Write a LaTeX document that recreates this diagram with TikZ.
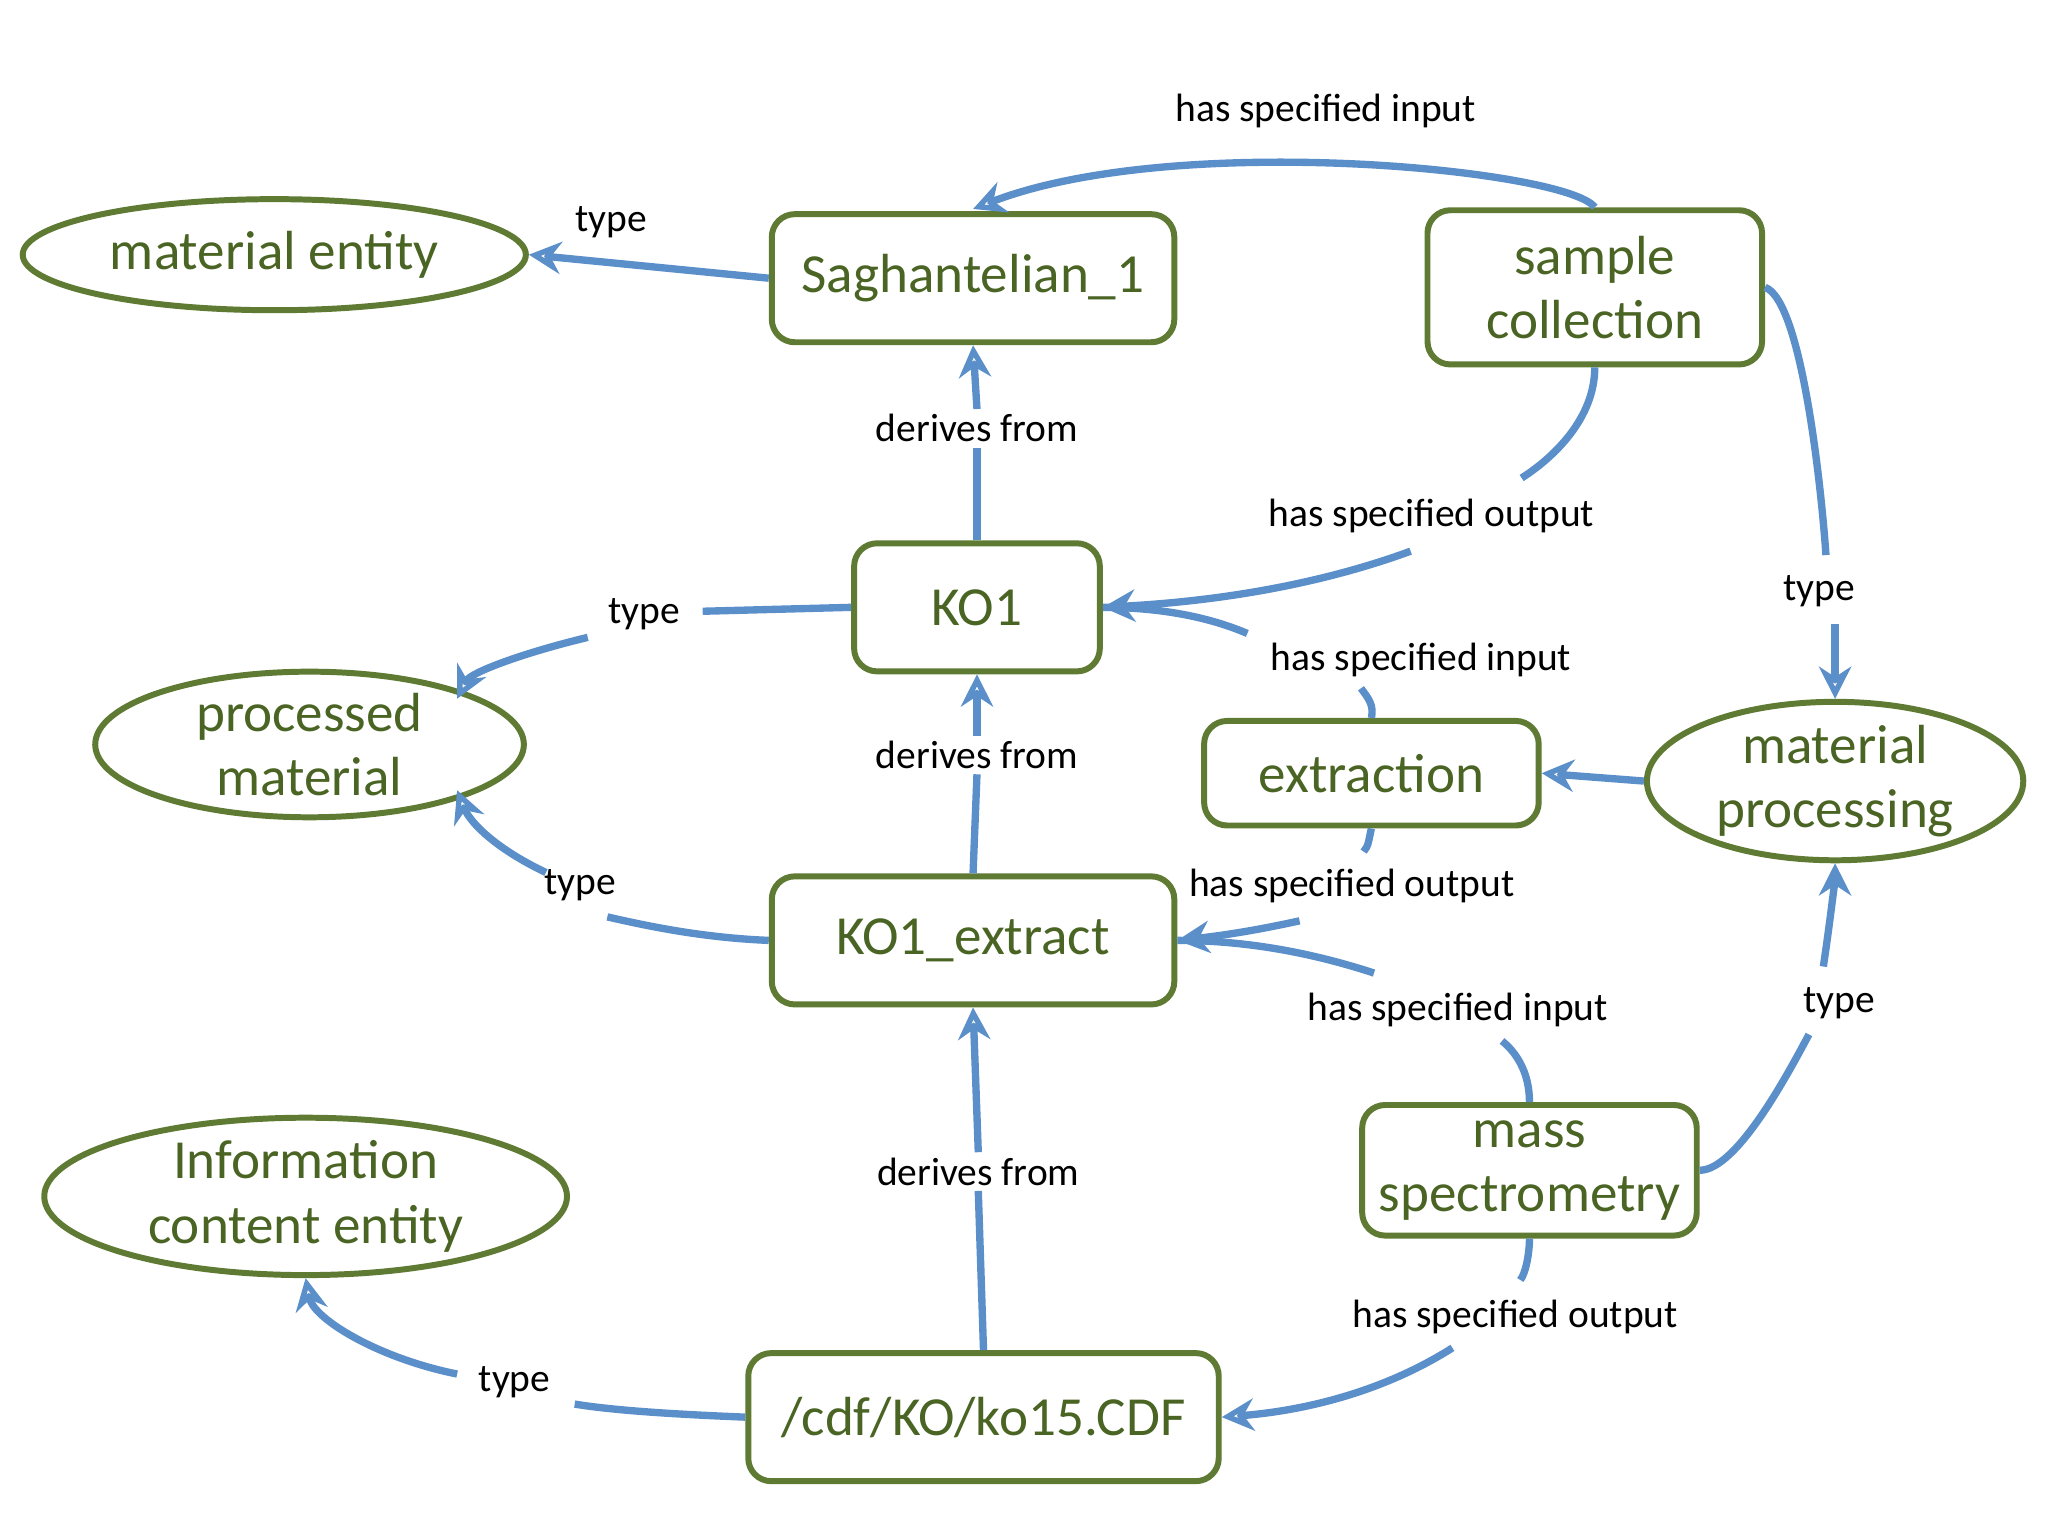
\documentclass[tikz,border=0pt]{standalone}
\usepackage{fontspec}
\setmainfont{Carlito}
\usetikzlibrary{shapes.geometric,arrows.meta}
\definecolor{olive}{HTML}{5E7A33}
\definecolor{txt}{HTML}{4A6424}
\definecolor{arr}{HTML}{5B8FC9}
\begin{document}
\begin{tikzpicture}[x=0.01cm,y=-0.01cm,
  box/.style={draw=olive,line width=1.3pt,rounded corners=5pt,text=txt,font=\fontsize{12}{14}\selectfont,align=center,minimum height=0.98cm},
  ell/.style={draw=olive,line width=1.3pt,ellipse,text=txt,font=\fontsize{12}{14}\selectfont,align=center,inner sep=0pt},
  lbl/.style={font=\fontsize{8.6}{10}\selectfont,inner sep=1pt,fill=white},
  e/.style={draw=arr,line width=1.6pt},
  a/.style={e,-{Stealth[length=7pt,width=7pt,open]}}]
\useasboundingbox (0,0) rectangle (1568,1176);
% nodes
\node[ell,minimum width=3.85cm,minimum height=0.85cm] (me) at (210,195) {material entity};
\node[box,minimum width=3.08cm] (sag) at (745,213) {Saghantelian\_1};
\node[box,minimum width=2.56cm,minimum height=1.18cm] (sc) at (1221,220) {sample\\collection};
\node[box,minimum width=1.88cm] (ko1) at (748,465) {KO1};
\node[ell,minimum width=3.28cm,minimum height=0.92cm] (pm) at (237,570) {processed\\material};
\node[box,minimum width=2.56cm,minimum height=0.8cm] (ex) at (1050,592) {extraction};
\node[ell,minimum width=2.88cm,minimum height=0.92cm] (mp) at (1405,598) {material\\processing};
\node[box,minimum width=3.08cm] (koe) at (745,720) {KO1\_extract};
\node[ell,minimum width=4cm,minimum height=1.1cm] (ice) at (234,916) {Information\\content entity};
\node[box,minimum width=2.56cm] (ms) at (1171,896) {mass\\spectrometry};
\node[box,minimum width=3.6cm] (cdf) at (753,1085) {/cdf/KO/ko15.CDF};
% labels
\node[lbl] (l1) at (468,170) {type};
\node[lbl] (l2) at (1015,85) {has specified input};
\node[lbl] (l3) at (748,328) {derives from};
\node[lbl] (l4) at (1096,395) {has specified output};
\node[lbl] (l5) at (1088,505) {has specified input};
\node[lbl] (l6) at (493,470) {type};
\node[lbl] (l7) at (748,578) {derives from};
\node[lbl] (l8) at (1393,453) {type};
\node[lbl] (l9) at (1035,678) {has specified output};
\node[lbl] (l10) at (1116,773) {has specified input};
\node[lbl] (l11) at (444,678) {type};
\node[lbl] (l12) at (1408,768) {type};
\node[lbl] (l13) at (749,897) {derives from};
\node[lbl] (l14) at (394,1058) {type};
\node[lbl] (l15) at (1160,1008) {has specified output};
% edges
\draw[a] (sag.west) -- (me.east);
\draw[a] (sc.north) .. controls (1200,130) and (900,100) .. (745,160);
\draw[e] (ko1.north) -- (l3.south);
\draw[a] (l3.north) -- (sag.south);
\draw[e] (sc.south) .. controls (1221,320) and (1190,350) .. (1165,366);
\draw[a] (1080,422) .. controls (990,455) and (900,462) .. (ko1.east);
\draw[e] (ex.north) .. controls (1052,540) and (1048,535) .. (1042,527);
\draw[e] (955,485) .. controls (920,470) and (880,465) .. (ko1.east);
\draw[e] (ko1.west) -- (538,468);
\draw[a] (450,488) .. controls (400,500) and (360,515) .. (350,535);
\draw[e] (koe.north) -- (l7.south);
\draw[a] (l7.north) -- (ko1.south);
\draw[e] (sc.east) .. controls (1380,230) and (1395,380) .. (1398,425);
\draw[a] (1405,478) -- (mp.north);
\draw[a] (mp.west) -- (ex.east);
\draw[e] (ex.south) .. controls (1048,642) and (1048,648) .. (1044,652);
\draw[a] (995,705) .. controls (950,715) and (920,718) .. (koe.east);
\draw[e] (ms.north) .. controls (1171,820) and (1160,805) .. (1150,797);
\draw[e] (1052,745) .. controls (1000,728) and (950,720) .. (koe.east);
\draw[e] (koe.west) .. controls (540,718) and (500,710) .. (465,702);
\draw[a] (418,668) .. controls (380,650) and (360,630) .. (350,605);
\draw[e] (ms.east) .. controls (1330,896) and (1370,820) .. (1385,792);
\draw[a] (1396,740) .. controls (1402,700) and (1405,670) .. (mp.south);
\draw[e] (cdf.north) -- (l13.south);
\draw[a] (l13.north) -- (koe.south);
\draw[e] (cdf.west) .. controls (520,1083) and (470,1080) .. (440,1075);
\draw[a] (350,1052) .. controls (290,1040) and (240,1010) .. (ice.south);
\draw[e] (ms.south) .. controls (1171,960) and (1168,975) .. (1164,980);
\draw[a] (1112,1032) .. controls (1060,1065) and (1000,1080) .. (cdf.east);
\end{tikzpicture}
\end{document}
